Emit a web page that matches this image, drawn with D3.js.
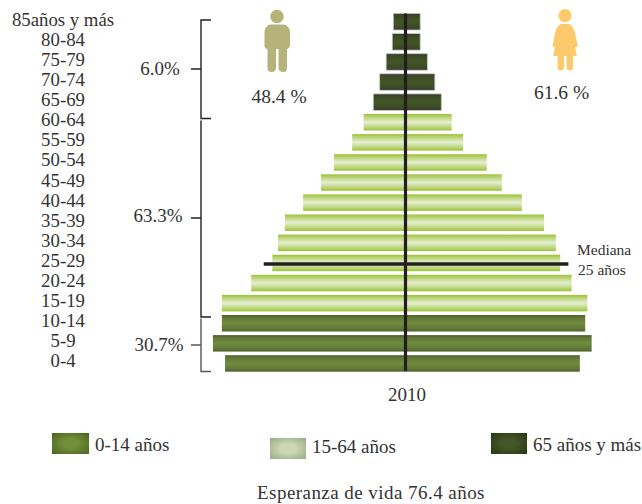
<!DOCTYPE html>
<html>
<head>
<meta charset="utf-8">
<script src="https://cdn.jsdelivr.net/npm/d3@7"></script>
<style>
  html, body { margin: 0; padding: 0; background: #fff; }
  text { font-family: "Liberation Serif", serif; fill: #333; }
</style>
</head>
<body>
<svg id="chart" width="642" height="504"></svg>
<script>
// Age groups, top of the pyramid first
const ageGroups = ["85años y más", "80-84", "75-79", "70-74", "65-69", "60-64", "55-59", "50-54", "45-49",
    "40-44", "35-39", "30-34", "25-29", "20-24", "15-19", "10-14", "5-9", "0-4"]
// Percent of total population
const menValues = [0.34, 0.37, 0.54, 0.72, 0.90, 1.17, 1.49, 2.00, 2.36, 2.86, 3.37, 3.56, 3.72, 4.31, 5.13, 5.13, 5.38, 5.04]
const womenValues = [0.41, 0.41, 0.61, 0.82, 1.00, 1.29, 1.61, 2.27, 2.69, 3.25, 3.87, 4.20, 4.32, 4.64, 5.08, 5.02, 5.20, 4.87]
const broadGroups = ["0-14 años", "15-64 años", "65 años y más"]
const broadOf = [2, 2, 2, 2, 2, 1, 1, 1, 1, 1, 1, 1, 1, 1, 1, 0, 0, 0]
const broadShares = ["6.0%", "63.3%", "30.7%"]
const sexShares = ["48.4 %", "61.6 %"]

let svg = d3.select("#chart")
let x = d3.scaleLinear().domain([-6, 6]).range([190.7, 620.3])
let y = d3.scaleBand().domain(ageGroups).range([9.9, 375.3]).padding(0.18)

// Gradients
let defs = svg.append("defs")
function BarGradient(id, edge, mid){
    let g = defs.append("linearGradient").attr("id", id).attr("x1", 0).attr("x2", 0).attr("y1", 0).attr("y2", 1)
    g.append("stop").attr("offset", "0%").attr("stop-color", edge[0])
    g.append("stop").attr("offset", "18%").attr("stop-color", edge[1])
    g.append("stop").attr("offset", "50%").attr("stop-color", mid)
    g.append("stop").attr("offset", "82%").attr("stop-color", edge[1])
    g.append("stop").attr("offset", "100%").attr("stop-color", edge[0])
}
BarGradient("bar0", ["#4f602c", "#62793a"], "#708c3c")
BarGradient("bar1", ["#9cc236", "#b9d474"], "#e6eed2")
BarGradient("bar2", ["#363a2e", "#3d4a26"], "#425524")

function BoxGradient(id, inner, outer){
    let g = defs.append("radialGradient").attr("id", id).attr("r", "70%")
    g.append("stop").attr("offset", "30%").attr("stop-color", inner)
    g.append("stop").attr("offset", "100%").attr("stop-color", outer)
}
BoxGradient("box0", "#71903a", "#4a6420")
BoxGradient("box1", "#ccd8b2", "#98a888")
BoxGradient("box2", "#435628", "#28380f")

// Bars
let rows = ageGroups.map((age, i) => ({age: age, men: menValues[i], women: womenValues[i], broad: broadOf[i]}))

svg.append("g").selectAll("rect").data(rows).enter().append("rect")
    .attr("x", d => x(-d.men))
    .attr("y", d => y(d.age))
    .attr("width", d => x(d.women) - x(-d.men))
    .attr("height", y.bandwidth())
    .attr("fill", d => "url(#bar" + d.broad + ")")
    .attr("stroke", d => d.broad == 2 ? "#c4c6c0" : "none")
    .attr("stroke-width", 0.8)

// Age labels
let axis = svg.append("g")
    .attr("transform", "translate(63,-2)")
    .call(d3.axisLeft(y).tickSize(0).tickPadding(0))
axis.select(".domain").remove()
axis.selectAll("text")
    .attr("text-anchor", "middle")
    .attr("font-size", 18.8)
    .style("font-family", '"Liberation Serif", serif')
    .attr("fill", "#333")

// Center axis and median line
svg.append("line").attr("x1", x(0)).attr("x2", x(0)).attr("y1", 13.5).attr("y2", 371)
    .attr("stroke", "#231f20").attr("stroke-width", 3.2)
svg.append("line").attr("x1", x(-3.96)).attr("x2", x(4.55))
    .attr("y1", 264).attr("y2", 264)
    .attr("stroke", "#231f20").attr("stroke-width", 3.4)
svg.append("text").attr("x", 577).attr("y", 255).attr("font-size", 15.5).text("Mediana")
svg.append("text").attr("x", 578).attr("y", 275).attr("font-size", 15.5).text("25 años")

// Brackets with their shares, only the first one has a top tick
let brackets = [
    {top: "M211,20H201", bottom: 118.5, mid: 69, color: "#222", label: broadShares[0], lx: 160},
    {top: "M201,120.5", bottom: 317, mid: 218, color: "#222", label: broadShares[1], lx: 158},
    {top: "M201,318.5", bottom: 371.5, mid: 345, color: "#555", label: broadShares[2], lx: 159}
]
brackets.forEach(b => {
    svg.append("path")
        .attr("d", `${b.top}V${b.bottom}H211M201,${b.mid}H191`)
        .attr("fill", "none").attr("stroke", b.color).attr("stroke-width", 1.4)
    svg.append("text").attr("x", b.lx).attr("y", b.mid + 6 - (b.mid == 218 ? 2 : 0))
        .attr("text-anchor", "middle").attr("font-size", 19).text(b.label)
})

// Man and woman icons
svg.append("circle").attr("cx", 277).attr("cy", 16.5).attr("r", 6.7).attr("fill", "#b5b37a")
svg.append("path").attr("fill", "#b5b37a")
    .attr("d", "M270,24.5H284Q290,26 290,33V46Q289,49 287,49V68Q287,72 283.5,72Q278.5,72 278.5,68V49H276V68Q276,72 271.5,72Q267.5,72 267.5,68V49Q265,49 264.5,46V33Q264.5,26 270,24.5Z")
svg.append("circle").attr("cx", 565).attr("cy", 15.7).attr("r", 6.6).attr("fill", "#fdca6b")
svg.append("path").attr("fill", "#fdca6b")
    .attr("d", "M561,24H569Q573,25 575,33L578,46L575,47.5L577,56H573V67Q573,70.5 570,70.5Q566.5,70.5 566.5,67V56H564V67Q564,70.5 560.5,70.5Q557.5,70.5 557.5,67V56H553L555,47.5L552.5,46L555,33Q557,25 561,24Z")
svg.append("text").attr("x", 279).attr("y", 103).attr("text-anchor", "middle").attr("font-size", 19.5).text(sexShares[0])
svg.append("text").attr("x", 561.5).attr("y", 99).attr("text-anchor", "middle").attr("font-size", 19.5).text(sexShares[1])

svg.append("text").attr("x", 407).attr("y", 401).attr("text-anchor", "middle").attr("font-size", 19).text("2010")

// Legend
let legendX = [52, 270, 491], legendY = [433, 438, 433], legendW = [37, 36, 36], legendText = [451, 453, 451]
broadGroups.forEach((name, i) => {
    svg.append("rect").attr("x", legendX[i]).attr("y", legendY[i]).attr("width", legendW[i]).attr("height", 21)
        .attr("fill", "url(#box" + i + ")")
    svg.append("text").attr("x", legendX[i] + legendW[i] + 6).attr("y", legendText[i])
        .attr("font-size", 19).text(name)
})

svg.append("text").attr("x", 371).attr("y", 499).attr("text-anchor", "middle").attr("font-size", 19)
    .attr("letter-spacing", 0.45)
    .text("Esperanza de vida 76.4 años")
</script>
</body>
</html>
